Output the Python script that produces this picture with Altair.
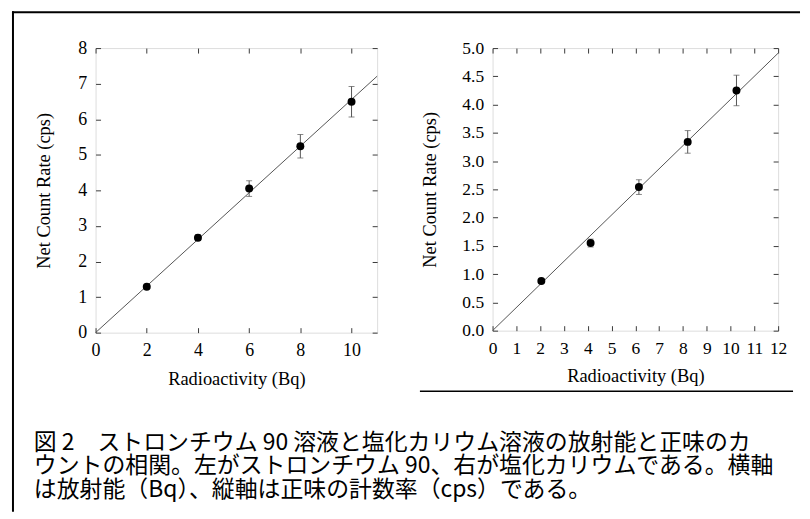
import altair as alt
import pandas as pd

# ---- data ----
left_x = [2, 4, 6, 8, 10]
left_y = [1.29, 2.67, 4.05, 5.24, 6.49]
left_err = [0.04, 0.08, 0.22, 0.33, 0.43]
left_fit_x = [0, 11]
left_fit_y = [0, 7.21]
left_xticks = [0, 2, 4, 6, 8, 10]
left_yticks = [0, 1, 2, 3, 4, 5, 6, 7, 8]

right_x = [2.05, 4.12, 6.15, 8.2, 10.25]
right_y = [0.88, 1.55, 2.54, 3.34, 4.25]
right_err = [0.03, 0.07, 0.13, 0.20, 0.27]
right_fit_x = [0, 12]
right_fit_y = [0, 4.91]
right_xticks = list(range(0, 13))
right_yticks = [0.0, 0.5, 1.0, 1.5, 2.0, 2.5, 3.0, 3.5, 4.0, 4.5, 5.0]

x_title = "Radioactivity (Bq)"
y_title = "Net Count Rate (cps)"
caption_lines = [
    "図 2　ストロンチウム 90 溶液と塩化カリウム溶液の放射能と正味のカ",
    "ウントの相関。左がストロンチウム 90、右が塩化カリウムである。横軸",
    "は放射能（Bq）、縦軸は正味の計数率（cps）である。",
]

SERIF = "Liberation Serif"
TICK_COLOR = "#3a3a3a"


def panel(xs, ys, errs, fit_x, fit_y, xdom, ydom, xticks, yticks, yfmt,
          width, height, label_size, ytitle_pad, extra_layers):
    pts = pd.DataFrame({"x": xs, "y": ys,
                        "lo": [a - b for a, b in zip(ys, errs)],
                        "hi": [a + b for a, b in zip(ys, errs)]})
    fit = pd.DataFrame({"x": fit_x, "y": fit_y})
    xs_ = alt.Scale(domain=xdom, nice=False, zero=False)
    ys_ = alt.Scale(domain=ydom, nice=False, zero=False)

    main_x_axis = alt.Axis(values=xticks, orient="bottom", offset=-5, tickSize=5,
                           domain=False, grid=False, labelPadding=9,
                           labelFont=SERIF, labelFontSize=label_size, labelColor="black",
                           tickColor=TICK_COLOR, title=x_title, titleFont=SERIF,
                           titleFontSize=18.5, titleFontWeight="normal", titleColor="black",
                           titlePadding=10, labelFlush=False, labelOverlap=False)
    main_y_axis = alt.Axis(values=yticks, orient="left", offset=-5, tickSize=5,
                           domain=False, grid=False, labelPadding=9, format=yfmt,
                           labelFont=SERIF, labelFontSize=label_size, labelColor="black",
                           tickColor=TICK_COLOR, title=y_title, titleFont=SERIF,
                           titleFontSize=18.5, titleFontWeight="normal", titleColor="black",
                           titlePadding=ytitle_pad, labelFlush=False, labelOverlap=False)
    top_axis = alt.Axis(values=xticks, orient="top", offset=-5, tickSize=5,
                        domain=False, grid=False, labels=False, title=None,
                        tickColor=TICK_COLOR)
    right_axis = alt.Axis(values=yticks, orient="right", offset=-5, tickSize=5,
                          domain=False, grid=False, labels=False, title=None,
                          tickColor=TICK_COLOR)

    line = alt.Chart(fit).mark_line(color="#555555", strokeWidth=1).encode(
        x=alt.X("x:Q", scale=xs_, axis=top_axis),
        y=alt.Y("y:Q", scale=ys_, axis=right_axis),
    )
    bars = alt.Chart(pts).mark_rule(color="#555555", strokeWidth=1).encode(
        x=alt.X("x:Q", scale=xs_, axis=None),
        y=alt.Y("lo:Q", scale=ys_, axis=None),
        y2="hi:Q",
    )
    cap_lo = alt.Chart(pts).mark_tick(color="#555555", thickness=1, size=6,
                                      orient="horizontal").encode(
        x=alt.X("x:Q", scale=xs_, axis=None),
        y=alt.Y("lo:Q", scale=ys_, axis=None),
    )
    cap_hi = alt.Chart(pts).mark_tick(color="#555555", thickness=1, size=6,
                                      orient="horizontal").encode(
        x=alt.X("x:Q", scale=xs_, axis=None),
        y=alt.Y("hi:Q", scale=ys_, axis=None),
    )
    dots = alt.Chart(pts).mark_circle(color="black", opacity=1, size=64).encode(
        x=alt.X("x:Q", scale=xs_, axis=main_x_axis),
        y=alt.Y("y:Q", scale=ys_, axis=main_y_axis),
    )
    return alt.layer(line, bars, cap_lo, cap_hi, dots, *extra_layers).resolve_axis(
        x="independent", y="independent"
    ).properties(width=width, height=height)


one = pd.DataFrame({"k": [0]})

# page frame (top and left edges) and caption, attached to the left panel
frame_v = alt.Chart(one).mark_rule(color="black", strokeWidth=2).encode(
    x=alt.value(-83), y=alt.value(-37), y2=alt.value(466))
frame_h = alt.Chart(one).mark_rule(color="black", strokeWidth=2).encode(
    x=alt.value(-84), x2=alt.value(708), y=alt.value(-36))

cap_layers = []
for i, line_text in enumerate(caption_lines):
    cap_layers.append(
        alt.Chart(one).mark_text(
            align="left", baseline="middle", font="Noto Sans CJK JP", fontSize=23,
            color="black").encode(
            x=alt.value(-62), y=alt.value(396.5 + 24 * i), text=alt.value(line_text))
    )

# rule under the right panel
under_rule = alt.Chart(one).mark_rule(color="black", strokeWidth=1.5).encode(
    x=alt.value(-73), x2=alt.value(302), y=alt.value(345))

left = panel(left_x, left_y, left_err, left_fit_x, left_fit_y, [0, 11], [0, 8],
             left_xticks, left_yticks, "d", 283, 286, 18, 24,
             [frame_v, frame_h] + cap_layers)
right = panel(right_x, right_y, right_err, right_fit_x, right_fit_y, [0, 12], [0, 5],
              right_xticks, right_yticks, ".1f", 287, 284, 17.5, 22,
              [under_rule])

chart = alt.hconcat(left, right, spacing=116, bounds="flush").properties(
    padding={"left": 2, "top": 0, "right": 0, "bottom": 0}
).configure_view(stroke=TICK_COLOR, strokeWidth=1.2).configure_axis(
    labelFont=SERIF, titleFont=SERIF, labelColor="black", titleColor="black"
).configure(background="white")

chart.save("out.html", embed_options={"renderer": "svg", "actions": False})
